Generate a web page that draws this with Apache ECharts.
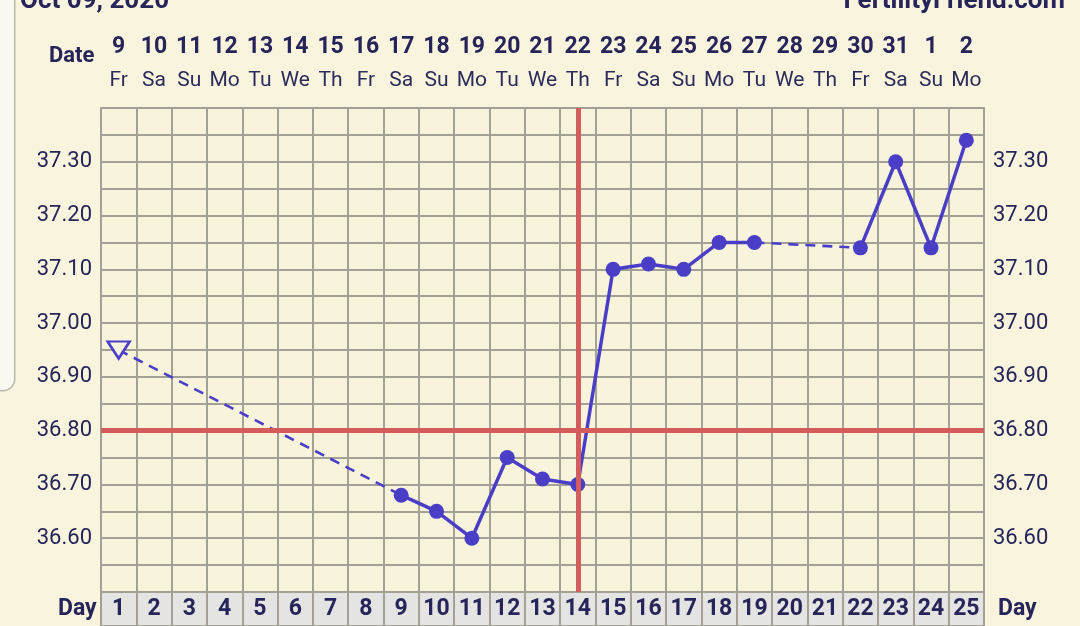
<!DOCTYPE html>
<html>
<head>
<meta charset="utf-8">
<script src="https://cdn.jsdelivr.net/npm/echarts@6/dist/echarts.min.js"></script>
<style>
html,body{margin:0;padding:0;background:#f8f4dd;}
#chart{width:1080px;height:626px;}
</style>
</head>
<body>
<div id="chart"></div>
<script>
const cycleDays = ['1','2','3','4','5','6','7','8','9','10','11','12','13','14','15','16','17','18','19','20','21','22','23','24','25'];
const dates = ['9','10','11','12','13','14','15','16','17','18','19','20','21','22','23','24','25','26','27','28','29','30','31','1','2'];
const weekdays = ['Fr','Sa','Su','Mo','Tu','We','Th','Fr','Sa','Su','Mo','Tu','We','Th','Fr','Sa','Su','Mo','Tu','We','Th','Fr','Sa','Su','Mo'];
const temps = [36.95, null, null, null, null, null, null, null, 36.68, 36.65, 36.60, 36.75, 36.71, 36.70, 37.10, 37.11, 37.10, 37.15, 37.15, null, null, 37.14, 37.30, 37.14, 37.34];
const coverline = 36.80;
const ovulationDay = '14';
const yTickLabels = ['36.60','36.70','36.80','36.90','37.00','37.10','37.20','37.30'];

const ink = '#27245a';
const lineColor = '#4a3ec6';
const gridColor = '#a3a196';
const bg = '#f8f4dd';
const font = 'Roboto';

const mainData = temps.map((v, i) => {
  if (v === null) return null;
  if (i === 0) {
    return {value: v, symbol: 'triangle', symbolSize: [22, 17], symbolRotate: 180,
      itemStyle: {color: bg, borderColor: lineColor, borderWidth: 2.5}};
  }
  return v;
});

const gapSeries = [];
const idx = temps.map((v, i) => v === null ? -1 : i).filter(i => i >= 0);
for (let k = 0; k < idx.length - 1; k++) {
  const a = idx[k], b = idx[k + 1];
  if (b - a > 1) {
    const d = temps.map((v, i) => (i === a || i === b) ? v : null);
    gapSeries.push({
      type: 'line', data: d, connectNulls: true, symbol: 'none', silent: true,
      lineStyle: {color: lineColor, width: 2.6, type: [10, 7]}, z: 3
    });
  }
}

const chart = echarts.init(document.getElementById('chart'), null, {renderer: 'canvas'});
chart.setOption({
  backgroundColor: bg,
  animation: false,
  title: [
    {text: 'Oct 09, 2020', left: 15, top: -17, textStyle: {fontFamily: font, fontSize: 26, fontWeight: 'bold', color: ink}},
    {text: 'FertilityFriend.com', right: 10, top: -17, textStyle: {fontFamily: font, fontSize: 26, fontWeight: 'bold', color: ink}},
    {text: 'Date', left: 44, top: 40, textStyle: {fontFamily: font, fontSize: 22, fontWeight: 'bold', color: ink}},
    {text: 'Day', left: 53, top: 593, textStyle: {fontFamily: font, fontSize: 23, fontWeight: 'bold', color: ink}},
    {text: 'Day', left: 993, top: 593, textStyle: {fontFamily: font, fontSize: 23, fontWeight: 'bold', color: ink}}
  ],
  graphic: [
    {type: 'rect', left: -20, top: -20, shape: {width: 34, height: 410, r: 12},
      style: {fill: '#fbf9ef', stroke: '#b9b7ae', lineWidth: 1.5}, silent: true}
  ],
  grid: [
    {left: 101, right: 96, top: 108, bottom: 34, show: true, backgroundColor: '#f8f4dc', borderColor: gridColor, borderWidth: 2},
    {left: 101, right: 96, top: 592, bottom: 0, show: true, backgroundColor: '#e4e4e2', borderColor: gridColor, borderWidth: 2}
  ],
  xAxis: [
    {
      type: 'category', gridIndex: 0, data: cycleDays, position: 'top', boundaryGap: true,
      axisLine: {show: false}, axisTick: {show: false},
      splitLine: {show: true, interval: 0, lineStyle: {color: gridColor, width: 2}},
      axisLabel: {
        interval: 0, margin: 10,
        formatter: (v, i) => '{d|' + dates[i] + '}\n{w|' + weekdays[i] + '}',
        rich: {
          d: {fontFamily: font, fontSize: 23, fontWeight: 'bold', color: ink, lineHeight: 34},
          w: {fontFamily: font, fontSize: 21, color: '#2e2b5c', lineHeight: 34}
        }
      }
    },
    {
      type: 'category', gridIndex: 1, data: cycleDays, position: 'bottom', boundaryGap: true,
      axisLine: {show: false}, axisTick: {show: false},
      splitLine: {show: true, interval: 0, lineStyle: {color: gridColor, width: 2}},
      axisLabel: {interval: 0, inside: true, margin: 5, fontFamily: font, fontSize: 23, fontWeight: 'bold', color: ink}
    }
  ],
  yAxis: [
    {
      type: 'value', gridIndex: 0, min: 36.5, max: 37.4, interval: 0.05, position: 'left',
      axisLine: {show: false}, axisTick: {show: false},
      splitLine: {show: true, lineStyle: {color: gridColor, width: 2}},
      axisLabel: {
        margin: 9, fontFamily: font, fontSize: 22, color: ink,
        formatter: v => { const s = v.toFixed(2); return yTickLabels.includes(s) ? s : ''; }
      }
    },
    {
      type: 'value', gridIndex: 0, min: 36.5, max: 37.4, interval: 0.05, position: 'right',
      axisLine: {show: false}, axisTick: {show: false}, splitLine: {show: false},
      axisLabel: {
        margin: 9, fontFamily: font, fontSize: 22, color: ink,
        formatter: v => { const s = v.toFixed(2); return yTickLabels.includes(s) ? s : ''; }
      }
    },
    {type: 'value', gridIndex: 1, show: false}
  ],
  series: [
    {
      type: 'line', xAxisIndex: 0, yAxisIndex: 0, data: [], silent: true,
      markLine: {
        silent: true, symbol: 'none', label: {show: false},
        lineStyle: {color: '#d45c5c', width: 5, type: 'solid'},
        data: [{yAxis: coverline}, {xAxis: ovulationDay}]
      },
      z: 2
    },
    ...gapSeries,
    {
      type: 'line', xAxisIndex: 0, yAxisIndex: 0, data: mainData, connectNulls: false,
      symbol: 'circle', symbolSize: 15,
      lineStyle: {color: lineColor, width: 3.5},
      itemStyle: {color: lineColor},
      z: 4
    }
  ]
});
</script>
</body>
</html>
